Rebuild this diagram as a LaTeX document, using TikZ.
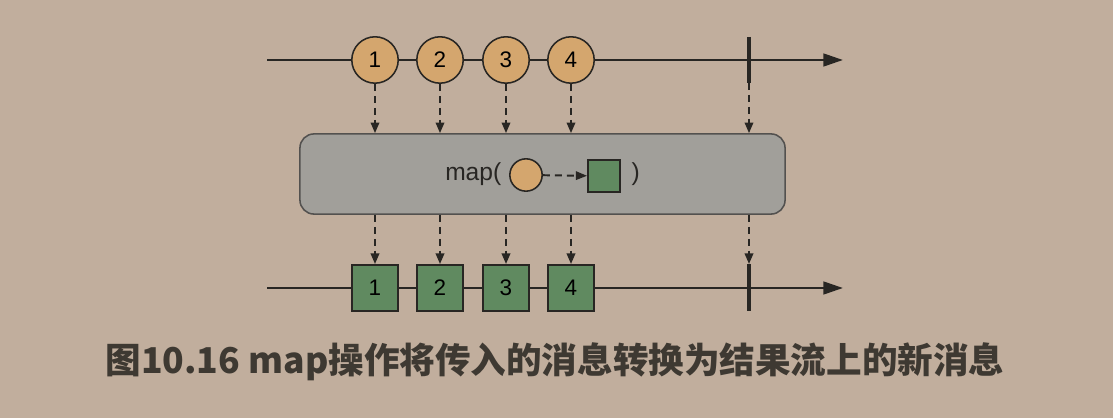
\documentclass[tikz,border=0pt]{standalone}
\usepackage{fontspec}
\setmainfont{Liberation Sans}
\newfontfamily\cjk{Noto Sans CJK SC}
\usetikzlibrary{arrows.meta}
\definecolor{bgtan}{RGB}{193,174,157}
\definecolor{balltan}{RGB}{212,166,110}
\definecolor{boxgreen}{RGB}{96,138,96}
\definecolor{mapgray}{RGB}{161,159,154}
\definecolor{inkdark}{RGB}{40,38,35}
\definecolor{captink}{RGB}{62,57,50}
\begin{document}
\begin{tikzpicture}[x=0.025cm,y=-0.025cm,
  ball/.style={circle,draw=inkdark,line width=1.1pt,fill=balltan,minimum size=33pt,inner sep=0pt,font=\fontsize{16}{16}\selectfont},
  item/.style={rectangle,draw=inkdark,line width=1.1pt,fill=boxgreen,minimum size=33pt,inner sep=0pt,font=\fontsize{16}{16}\selectfont},
  timeline/.style={draw=inkdark,line width=1.9pt,-{Triangle[length=14pt,width=9pt]}},
  flow/.style={draw=inkdark,line width=1.4pt,dash pattern=on 5pt off 3.5pt,-{Triangle[length=7.5pt,width=6pt]}},
  endtick/.style={draw=inkdark,line width=2.3pt}]
\fill[bgtan] (0,0) rectangle (1113,418);
\useasboundingbox (0,0) rectangle (1113,418);
% top stream
\coordinate (tstart) at (267,60);
\coordinate (tend) at (843,60);
\draw[timeline] (tstart) -- (tend);
\coordinate (ttop) at (749,37);
\coordinate (tbot) at (749,83);
\draw[endtick] (ttop) -- (tbot);
\foreach \n/\x in {1/375,2/440,3/506,4/571}
  \node[ball] (c\n) at (\x,60) {\n};
% operator box
\node[rectangle,rounded corners=10pt,draw=inkdark!80,line width=1.1pt,fill=mapgray,minimum width=345pt,minimum height=57pt] (op) at (542.5,174) {};
\node[font=\fontsize{17.5}{17.5}\selectfont,text=inkdark,anchor=east,inner sep=1pt] (mapword) at (503,174) {map(};
\node[circle,draw=inkdark,line width=1.1pt,fill=balltan,minimum size=23pt,inner sep=0pt] (inball) at (526,175) {};
\node[rectangle,draw=inkdark,line width=1.1pt,fill=boxgreen,minimum size=23pt,inner sep=0pt] (outbox) at (604,176) {};
\node[font=\fontsize{17.5}{17.5}\selectfont,text=inkdark,anchor=west,inner sep=1pt] (closep) at (630,174) {)};
\draw[flow,-{Triangle[length=8pt,width=6pt]}] (inball) -- (outbox);
% bottom stream
\coordinate (bstart) at (267,288);
\coordinate (bend) at (843,288);
\draw[timeline] (bstart) -- (bend);
\coordinate (btop) at (749,264);
\coordinate (bbot) at (749,311);
\draw[endtick] (btop) -- (bbot);
\foreach \n/\x in {1/375,2/440,3/506,4/571}
  \node[item] (s\n) at (\x,288) {\n};
% flows through the operator
\foreach \n in {1,...,4}{
  \draw[flow] (c\n.south) -- (c\n |- op.north);
  \draw[flow] (s\n |- op.south) -- (s\n.north);
}
\draw[flow] (tbot) -- (tbot |- op.north);
\draw[flow] (tbot |- op.south) -- (btop);
% caption
\node[font=\cjk\bfseries\fontsize{25.3}{25.3}\selectfont,text=captink] (caption) at (555,362) {图10.16 map操作将传入的消息转换为结果流上的新消息};
\end{tikzpicture}
\end{document}
